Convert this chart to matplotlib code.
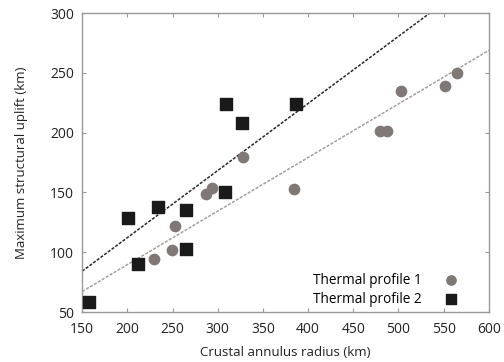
import matplotlib.pyplot as plt
import numpy as np

plt.rcParams['font.family'] = ['Open Sans', 'DejaVu Sans']

# thermal profile 1 (grey circles)
tp1_radius = [230, 249, 253, 287, 294, 328, 384, 479, 487, 503, 551, 565]
tp1_uplift = [94, 102, 122, 149, 154, 180, 153, 201, 201, 235, 239, 250]

# thermal profile 2 (black squares)
tp2_radius = [158, 201, 212, 234, 265, 265, 309, 308, 327, 387]
tp2_uplift = [58, 129, 90, 138, 135, 103, 224, 150, 208, 224]

# fitted slopes (lines through origin)
tp1_slope = 0.448
tp2_slope = 0.561

fig = plt.figure(figsize=(5.04, 3.62), dpi=100)
ax = fig.add_axes([0.163, 0.138, 0.807, 0.826])

xx = np.array([150, 600])
ax.plot(xx, tp1_slope*xx, ls=(0, (2, 1)), color='#a59f9b', lw=1.1, zorder=1)
ax.plot(xx, tp2_slope*xx, ls=(0, (2, 1)), color='#2a2a2a', lw=1.1, zorder=1)

ax.scatter(tp1_radius, tp1_uplift, s=55, marker='o', color='#7f7875',
           label='Thermal profile 1', zorder=3)
ax.scatter(tp2_radius, tp2_uplift, s=72, marker='s', color='#1a1a1a',
           label='Thermal profile 2', zorder=3)

ax.set_xlim(150, 600)
ax.set_ylim(50, 300)
ax.set_xticks(range(150, 601, 50))
ax.set_yticks(range(50, 301, 50))
ax.tick_params(direction='in', top=True, right=True, length=3, color='#999999',
               labelsize=10, labelcolor='#222222')
ax.tick_params(axis='x', pad=7)
ax.tick_params(axis='y', pad=6)
for s in ax.spines.values():
    s.set_color('#999999')
    s.set_linewidth(1.0)

ax.set_xlabel('Crustal annulus radius (km)', fontsize=9.5, color='#222222', labelpad=7)
ax.set_ylabel('Maximum structural uplift (km)', fontsize=9.5, color='#222222', labelpad=16)

ax.legend(loc='lower right', bbox_to_anchor=(0.953, 0.0), frameon=False,
          markerfirst=False, fontsize=9.8, markerscale=0.9,
          handletextpad=1.1, labelspacing=0.28, borderaxespad=0)

plt.savefig('out.png', dpi=100)
